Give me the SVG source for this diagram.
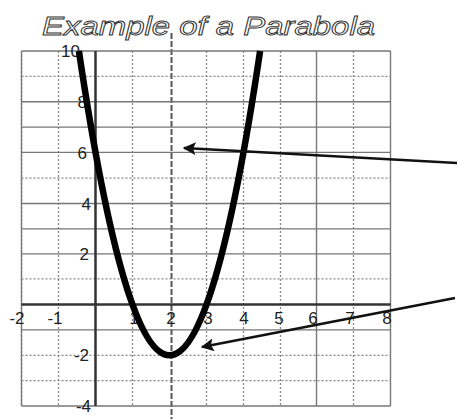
<svg xmlns="http://www.w3.org/2000/svg" width="458" height="419" viewBox="0 0 458 419">
<style>
.dot{stroke:#888;stroke-width:1.3;stroke-dasharray:2 2;fill:none}
.sol{stroke:#777;stroke-width:1.4;fill:none}
.axis{stroke:#333;stroke-width:2.5;fill:none}
.lbl{font-family:"Liberation Sans",Arial,sans-serif;font-size:17px;fill:#222}
.title{font-family:"Liberation Sans",Arial,sans-serif;font-size:26px;font-style:italic;fill:#fff;stroke:#333;stroke-width:0.9}
.arr{stroke:#111;stroke-width:2.6;fill:none;marker-end:url(#ah)}
</style>
<defs>
<marker id="ah" viewBox="0 0 10 10" refX="9" refY="5" markerWidth="7" markerHeight="5" orient="auto" markerUnits="strokeWidth">
<path d="M0,0 L10,5 L0,10 L2,5 z" fill="#111"/>
</marker>
</defs>
<rect width="458" height="419" fill="#fff"/>
<g id="title"><text class="title" x="42" y="35" textLength="333" lengthAdjust="spacingAndGlyphs">Example of a Parabola</text></g>
<g id="grid">
<path class="dot" d="M21.5,51V406M58.5,51V406M132.5,51V406M206.5,51V406M243.5,51V406M280.5,51V406M353.5,51V406"/>
<path class="sol" d="M316.5,51V406M390.5,51V406M21.5,51V406"/>
<path d="M171.5,33V419" stroke="#555" stroke-width="2" stroke-dasharray="6 2" fill="none"/>
<path class="dot" d="M21.5,76.4H390.5M21.5,178.2H390.5M21.5,278.9H390.5M21.5,355.3H390.5M21.5,380.7H390.5"/>
<path class="sol" d="M21.5,51H390.5M21.5,101.7H390.5M21.5,127.1H390.5M21.5,152.4H390.5M21.5,203.5H390.5M21.5,228.9H390.5M21.5,253.9H390.5M21.5,329.9H390.5M21.5,406H390.5"/>
</g>
<g id="axes">
<path class="axis" d="M95.5,51V406"/>
<path class="axis" d="M21.5,304.6H390.5"/>
</g>
<g id="labels">
<text class="lbl" x="80" y="57" text-anchor="end">10</text>
<text class="lbl" x="87" y="108" text-anchor="end">8</text>
<text class="lbl" x="87" y="159" text-anchor="end">6</text>
<text class="lbl" x="91" y="210" text-anchor="end">4</text>
<text class="lbl" x="89" y="260" text-anchor="end">2</text>
<text class="lbl" x="89" y="361" text-anchor="end">-2</text>
<text class="lbl" x="91" y="412" text-anchor="end">-4</text>
<text class="lbl" x="17" y="324" text-anchor="middle">-2</text>
<text class="lbl" x="55" y="324" text-anchor="middle">-1</text>
<text class="lbl" x="134" y="324" text-anchor="middle">1</text>
<text class="lbl" x="171" y="324" text-anchor="middle">2</text>
<text class="lbl" x="208" y="324" text-anchor="middle">3</text>
<text class="lbl" x="244" y="324" text-anchor="middle">4</text>
<text class="lbl" x="279" y="324" text-anchor="middle">5</text>
<text class="lbl" x="313" y="324" text-anchor="middle">6</text>
<text class="lbl" x="350" y="324" text-anchor="middle">7</text>
<text class="lbl" x="387" y="324" text-anchor="middle">8</text>
</g>
<g id="parabola">
<path d="M78.9,51 Q169.5,659.6 260.1,51" stroke="#000" stroke-width="6.5" fill="none"/>
</g>
<g id="connectors">
<path class="arr" d="M457,163 L184,148"/>
<path class="arr" d="M455,298 L202,347"/>
</g>
</svg>
